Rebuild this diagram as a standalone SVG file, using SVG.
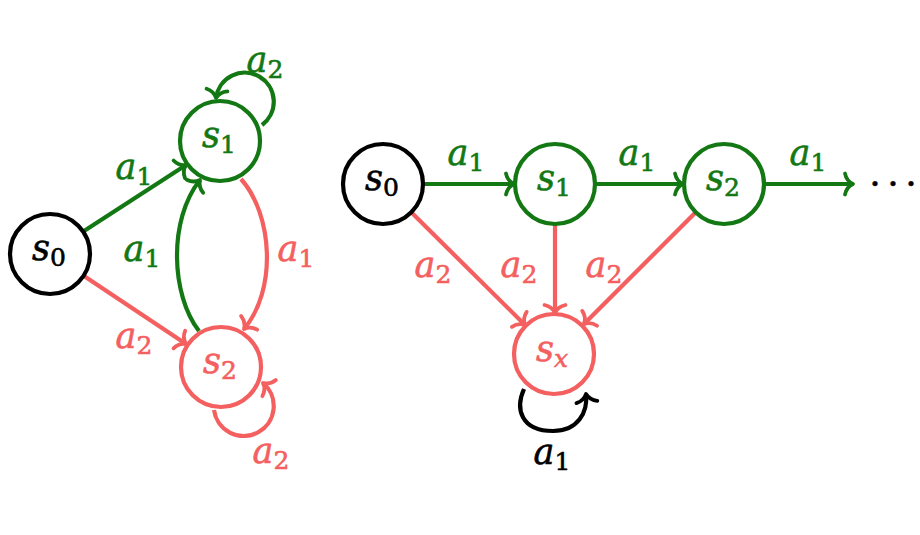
<svg xmlns="http://www.w3.org/2000/svg" width="920" height="535" viewBox="0 0 920 535">
<defs>
<style>
text { font-family: "DejaVu Serif", "Liberation Serif", serif; font-size: 35px; font-style: italic; text-anchor: middle; stroke-width: 0.6px; }
.sub { font-style: normal; font-size: 25px; }
.subi { font-style: italic; font-size: 25px; }
.dots { font-family: "Liberation Serif", serif; font-style: normal; font-size: 39px; }
.nd { fill: #ffffff; stroke-width: 4.2; }
.e { fill: none; stroke-width: 4.2; }
.k { stroke: #000000; } .g { stroke: #137813; } .r { stroke: #f45f5f; }
.tk { fill: #000000; stroke: #000000; } .tg { fill: #137813; stroke: #137813; } .tr { fill: #f45f5f; stroke: #f45f5f; }
.eg { marker-end: url(#ag); } .er { marker-end: url(#ar); } .ek { marker-end: url(#ak); }
.ah { fill: none; stroke-width: 3.8; stroke-linecap: round; stroke-linejoin: round; }
</style>
<marker id="ag" markerUnits="userSpaceOnUse" orient="auto" refX="0" refY="0" markerWidth="30" markerHeight="30" viewBox="-15 -15 30 30" overflow="visible">
<path class="ah" stroke="#137813" d="M -8,-10.5 Q -6.5,-3 0,0 Q -6.5,3 -8,10.5"/>
</marker>
<marker id="ar" markerUnits="userSpaceOnUse" orient="auto" refX="0" refY="0" markerWidth="30" markerHeight="30" viewBox="-15 -15 30 30" overflow="visible">
<path class="ah" stroke="#f45f5f" d="M -8,-10.5 Q -6.5,-3 0,0 Q -6.5,3 -8,10.5"/>
</marker>
<marker id="ak" markerUnits="userSpaceOnUse" orient="auto" refX="0" refY="0" markerWidth="30" markerHeight="30" viewBox="-15 -15 30 30" overflow="visible">
<path class="ah" stroke="#000000" d="M -8,-10.5 Q -6.5,-3 0,0 Q -6.5,3 -8,10.5"/>
</marker>
</defs>
<rect width="920" height="535" fill="#ffffff"/>

<g id="connectors">
  <!-- left graph -->
  <g id="L-e-s0-s1"><path class="e g eg" d="M 84,231 L 186,165"/><text class="tg" x="134" y="179">a<tspan class="sub" dy="6">1</tspan></text></g>
  <g id="L-e-s0-s2"><path class="e r er" d="M 84,276 L 186,344"/><text class="tr" x="134" y="348">a<tspan class="sub" dy="6">2</tspan></text></g>
  <g id="L-e-s2-s1"><path class="e g eg" d="M 199,331 C 171,295 168,220 200,180"/><text class="tg" x="142" y="261">a<tspan class="sub" dy="6">1</tspan></text></g>
  <g id="L-e-s1-s2"><path class="e r er" d="M 241,179 C 273,215 277,290 244,329"/><text class="tr" x="296" y="261">a<tspan class="sub" dy="6">1</tspan></text></g>
  <g id="L-e-s1-s1"><path class="e g eg" d="M 262,125 A 29,29 0 1 0 216,98"/><text class="tg" x="265" y="72">a<tspan class="sub" dy="6">2</tspan></text></g>
  <g id="L-e-s2-s2"><path class="e r er" d="M 214,410 A 30,30 0 1 0 263,383"/><text class="tr" x="271" y="463">a<tspan class="sub" dy="6">2</tspan></text></g>
  <!-- right graph -->
  <g id="R-e-s0-s1"><path class="e g eg" d="M 423,184 L 514,184"/><text class="tg" x="466" y="165">a<tspan class="sub" dy="6">1</tspan></text></g>
  <g id="R-e-s1-s2"><path class="e g eg" d="M 595,184 L 683,184"/><text class="tg" x="637" y="165">a<tspan class="sub" dy="6">1</tspan></text></g>
  <g id="R-e-s2-more"><path class="e g eg" d="M 764,184 L 853,184"/><text class="tg" x="808" y="165">a<tspan class="sub" dy="6">1</tspan></text></g>
  <g id="R-e-s0-sx"><path class="e r er" d="M 411,212 L 525,325"/><text class="tr" x="433" y="277">a<tspan class="sub" dy="6">2</tspan></text></g>
  <g id="R-e-s1-sx"><path class="e r er" d="M 555,224 L 555,313"/><text class="tr" x="519" y="277">a<tspan class="sub" dy="6">2</tspan></text></g>
  <g id="R-e-s2-sx"><path class="e r er" d="M 696,212 L 584,324"/><text class="tr" x="604" y="277">a<tspan class="sub" dy="6">2</tspan></text></g>
  <g id="R-e-sx-sx"><path class="e k ek" d="M 524,389 C 515,409 521,431 553,431 C 578,431 588,412 586,394"/><text class="tk" x="552" y="464">a<tspan class="sub" dy="6">1</tspan></text></g>
</g>

<g id="L-s0"><circle class="nd k" cx="50" cy="254" r="40"/><text class="tk" x="49" y="260">s<tspan class="sub" dy="6">0</tspan></text></g>
<g id="L-s1"><circle class="nd g" cx="220" cy="141" r="40"/><text class="tg" x="219" y="147">s<tspan class="sub" dy="6">1</tspan></text></g>
<g id="L-s2"><circle class="nd r" cx="221" cy="367" r="40"/><text class="tr" x="220" y="373">s<tspan class="sub" dy="6">2</tspan></text></g>

<g id="R-s0"><circle class="nd k" cx="383" cy="184" r="40"/><text class="tk" x="382" y="190">s<tspan class="sub" dy="6">0</tspan></text></g>
<g id="R-s1"><circle class="nd g" cx="555" cy="184" r="40"/><text class="tg" x="554" y="190">s<tspan class="sub" dy="6">1</tspan></text></g>
<g id="R-s2"><circle class="nd g" cx="724" cy="184" r="40"/><text class="tg" x="723" y="190">s<tspan class="sub" dy="6">2</tspan></text></g>
<g id="R-sx"><circle class="nd r" cx="554" cy="354" r="40"/><text class="tr" x="552" y="361">s<tspan class="subi" dy="6">x</tspan></text></g>

<g id="R-dots"><text class="tk dots" y="197"><tspan x="875">·</tspan><tspan x="893">·</tspan><tspan x="911">·</tspan></text></g>
</svg>
